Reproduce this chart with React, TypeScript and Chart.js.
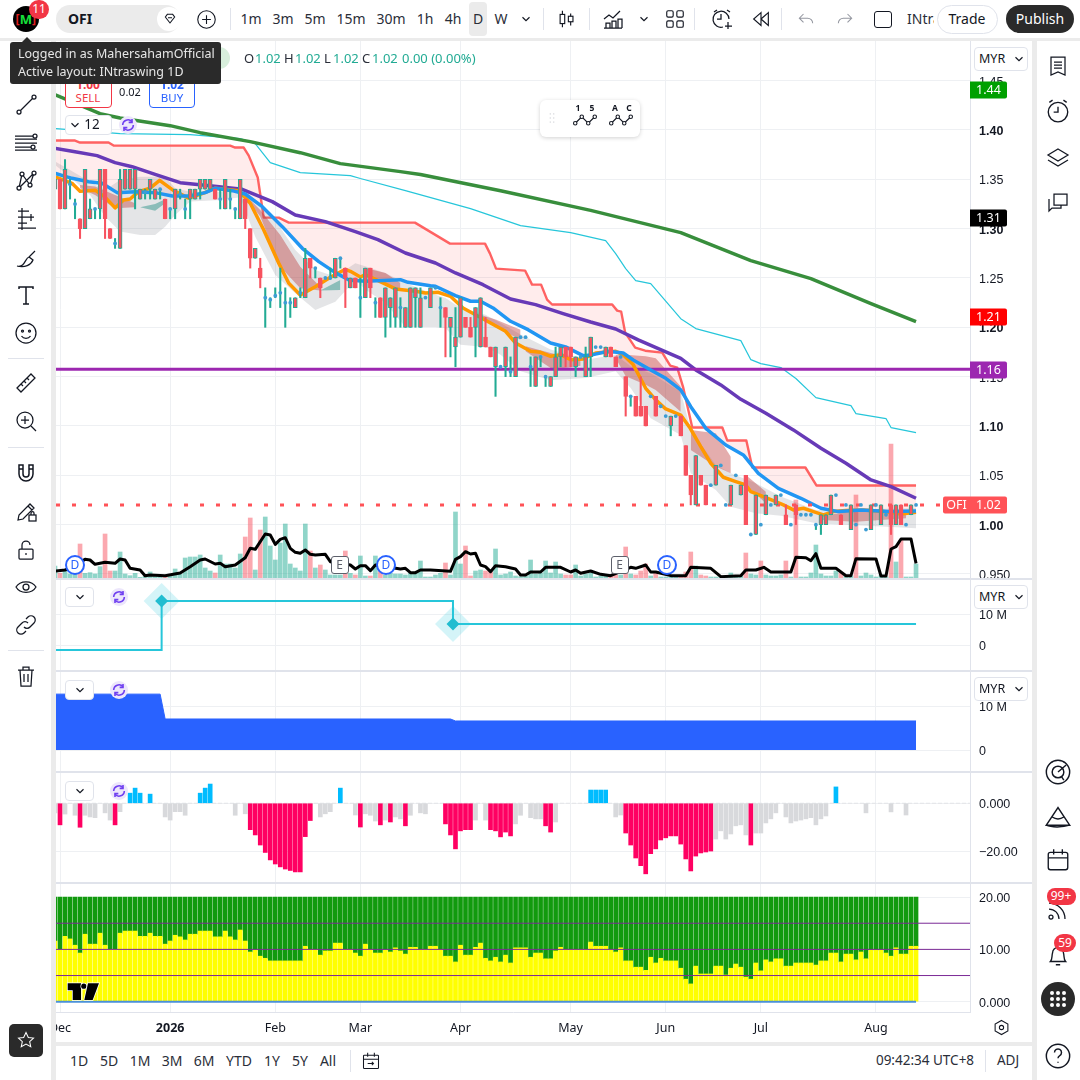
import React, { useEffect, useRef } from "react";
import { Chart, registerables } from "chart.js";

Chart.register(...registerables);

// ---------- candles (index 0..172) ----------
const opens = [
  1.34,1.35,1.32,1.345,1.325,1.31,1.30,1.31,1.32,1.32,
  1.36,1.30,1.285,1.28,1.34,1.34,1.34,1.33,1.337,1.34,
  1.33,1.34,1.33,1.32,1.32,1.335,1.32,1.33,1.33,1.34,
  1.34,1.34,1.34,1.33,1.32,1.33,1.32,1.31,1.33,1.30,
  1.27,1.26,1.23,1.228,1.232,1.235,1.225,1.225,1.22,1.235,
  1.23,1.27,1.26,1.25,1.25,1.25,1.25,1.27,1.26,1.24,
  1.25,1.23,1.23,1.26,1.225,1.23,1.21,1.22,1.21,1.22,
  1.20,1.20,1.23,1.20,1.23,1.22,1.24,1.22,1.22,1.20,
  1.18,1.19,1.21,1.20,1.20,1.18,1.19,1.18,1.16,1.16,
  1.16,1.155,1.15,1.19,1.19,1.16,1.14,1.17,1.15,1.14,
  1.15,1.17,1.18,1.18,1.16,1.17,1.15,1.17,1.18,1.18,
  1.17,1.18,1.17,1.17,1.15,1.13,1.13,1.12,1.12,1.13,
  1.13,1.12,1.11,1.10,1.11,1.11,1.08,1.05,1.02,1.05,
  1.04,1.04,1.04,1.06,1.02,1.02,1.05,1.03,1.05,0.99,
  0.99,1.00,1.01,1.02,1.02,1.03,1.01,1.00,1.02,1.01,
  1.01,1.01,1.00,1.00,1.00,1.01,1.03,1.01,1.02,0.995,
  1.00,1.02,0.995,0.995,1.02,1.00,1.01,1.02,1.00,1.02,1.00,1.01,1.02,
];
const closes = [
  1.35,1.32,1.36,1.345,1.325,1.30,1.36,1.32,1.32,1.36,
  1.31,1.29,1.285,1.35,1.36,1.36,1.36,1.34,1.337,1.35,
  1.34,1.34,1.31,1.32,1.34,1.335,1.32,1.34,1.34,1.35,
  1.35,1.35,1.33,1.33,1.35,1.33,1.32,1.35,1.31,1.27,
  1.28,1.25,1.23,1.228,1.232,1.235,1.225,1.225,1.23,1.235,
  1.27,1.26,1.26,1.24,1.25,1.25,1.27,1.27,1.25,1.25,
  1.24,1.23,1.26,1.24,1.225,1.21,1.24,1.23,1.24,1.22,
  1.22,1.24,1.24,1.23,1.23,1.24,1.24,1.22,1.21,1.21,
  1.19,1.23,1.20,1.19,1.22,1.23,1.18,1.17,1.18,1.16,
  1.18,1.155,1.19,1.19,1.19,1.16,1.17,1.17,1.15,1.15,
  1.17,1.18,1.17,1.17,1.17,1.17,1.17,1.19,1.18,1.18,
  1.18,1.17,1.16,1.17,1.13,1.13,1.11,1.11,1.10,1.13,
  1.11,1.12,1.11,1.11,1.11,1.09,1.05,1.03,1.07,1.04,
  1.02,1.04,1.06,1.06,1.02,1.04,1.05,1.04,1.00,0.99,
  1.03,1.00,1.03,1.02,1.03,1.03,1.00,1.00,1.01,1.01,
  1.01,1.01,1.00,1.01,1.01,1.03,1.03,1.00,1.02,1.02,
  1.00,1.02,0.995,1.02,1.02,1.02,1.01,1.00,1.02,1.00,1.00,1.02,1.02,
];
const highs = [
  1.35,1.35,1.37,1.35,1.33,1.31,1.36,1.33,1.32,1.36,
  1.36,1.30,1.29,1.36,1.36,1.36,1.36,1.34,1.34,1.35,
  1.34,1.34,1.33,1.32,1.34,1.34,1.33,1.34,1.34,1.35,
  1.35,1.35,1.34,1.34,1.35,1.34,1.32,1.35,1.33,1.30,
  1.28,1.27,1.24,1.23,1.24,1.26,1.24,1.23,1.23,1.24,
  1.28,1.27,1.26,1.25,1.25,1.26,1.27,1.27,1.26,1.25,
  1.25,1.25,1.26,1.26,1.23,1.23,1.24,1.23,1.24,1.23,
  1.22,1.24,1.24,1.24,1.23,1.24,1.24,1.23,1.22,1.21,
  1.22,1.23,1.21,1.21,1.22,1.23,1.21,1.18,1.18,1.16,
  1.18,1.17,1.19,1.19,1.19,1.17,1.17,1.17,1.15,1.15,
  1.18,1.18,1.18,1.18,1.17,1.17,1.18,1.19,1.18,1.18,
  1.18,1.18,1.17,1.17,1.15,1.13,1.13,1.15,1.12,1.13,
  1.13,1.12,1.11,1.11,1.11,1.11,1.08,1.05,1.07,1.05,
  1.04,1.04,1.06,1.06,1.02,1.04,1.05,1.04,1.05,0.99,
  1.03,1.00,1.03,1.02,1.03,1.03,1.02,1.00,1.02,1.01,
  1.01,1.01,1.00,1.01,1.01,1.03,1.03,1.01,1.02,1.02,
  1.00,1.02,0.995,1.02,1.02,1.02,1.01,1.02,1.02,1.02,1.00,1.02,1.02,
];
const lows = [
  1.34,1.32,1.32,1.33,1.31,1.29,1.30,1.31,1.31,1.31,
  1.29,1.29,1.28,1.28,1.34,1.34,1.32,1.33,1.33,1.33,
  1.33,1.33,1.31,1.31,1.31,1.33,1.31,1.31,1.33,1.33,
  1.34,1.34,1.33,1.32,1.32,1.32,1.31,1.31,1.30,1.26,
  1.27,1.24,1.20,1.22,1.23,1.22,1.20,1.21,1.22,1.23,
  1.23,1.25,1.25,1.23,1.25,1.25,1.25,1.26,1.22,1.24,
  1.24,1.21,1.23,1.23,1.21,1.21,1.19,1.20,1.20,1.20,
  1.20,1.20,1.20,1.20,1.23,1.22,1.24,1.20,1.17,1.17,
  1.16,1.19,1.20,1.19,1.17,1.18,1.18,1.17,1.13,1.16,
  1.15,1.15,1.15,1.19,1.19,1.14,1.14,1.16,1.14,1.14,
  1.15,1.16,1.16,1.16,1.15,1.17,1.15,1.15,1.18,1.18,
  1.17,1.17,1.16,1.17,1.11,1.12,1.11,1.11,1.10,1.13,
  1.11,1.12,1.11,1.09,1.11,1.09,1.05,1.02,1.02,1.04,
  1.02,1.04,1.04,1.06,1.02,1.02,1.05,1.03,1.00,0.99,
  0.99,1.00,1.01,1.02,1.02,1.03,1.00,1.00,1.00,1.01,
  1.01,1.01,0.995,0.99,1.00,1.01,1.03,1.00,1.02,0.995,
  1.00,1.02,0.995,0.995,1.02,1.00,1.01,0.99,1.00,1.00,1.00,1.01,1.02,
];
const volumes = [
  36,14,20,12,15,102,14,16,12,34,
  132,21,21,78,12,7,14,2,6,18,
  9,9,6,9,27,12,60,63,63,69,
  30,21,15,69,42,42,30,72,123,180,
  24,144,183,96,54,105,162,42,30,21,
  162,81,30,39,24,9,9,9,81,14,
  9,66,6,6,66,33,9,14,12,12,
  9,14,18,51,3,3,9,14,45,9,
  198,42,96,6,21,24,21,21,87,9,
  12,18,6,4,6,54,12,15,51,15,
  48,12,9,9,39,6,12,15,3,6,
  6,9,9,9,93,12,9,21,42,6,
  15,3,3,3,3,3,18,78,36,9,
  6,3,3,3,3,15,6,6,75,12,
  9,51,9,6,6,9,51,3,234,3,
  3,15,99,12,6,6,21,15,6,6,
  249,6,15,9,3,9,3,402,48,114,3,3,42,
];
const volumeRedDoji = [141, 160];

// ---------- lines: [bar index, value] ----------
const volumeAverage = [
  [0,21],[2,24],[3,30],[6,56],[7,54],[8,41],[10,47],[12,44],[13,57],[14,54],[15,29],[17,24],[18,7],[19,9],[22,7],[25,15],[27,34],[29,54],[30,57],[32,42],[33,44],[34,34],[36,39],[38,61],[39,89],[40,86],[42,132],[43,129],[44,101],[45,116],[46,121],[47,89],[48,77],[49,74],[50,84],[51,71],[52,69],[54,71],[55,49],[59,39],[60,27],[61,37],[62,37],[63,22],[64,39],[69,27],[70,29],[71,16],[72,16],[73,24],[75,24],[79,20],[80,56],[81,64],[82,79],[83,72],[84,74],[85,39],[86,34],
  [87,19],[88,37],[90,34],[92,27],[93,9],[94,9],[95,18],[97,18],[98,32],[101,32],[103,18],[104,24],[105,14],[107,21],[109,11],[111,7],[115,32],[116,29],[118,39],[119,18],[120,18],[123,7],[126,7],[127,32],[131,29],[133,4],[137,7],[138,24],[140,24],[141.6,32],[143,18],[147,18],[148,62],[150,61],[151,52],[152,73],[153,29],[156,29],[158,7],[159,7],[160,58],[164,57],[165,6],[166,6],[167,87],[168,94],[169,117],[171,117],[172,44],
];
const greenAverage = [[0,1.4358],[9,1.4165],[13,1.4122],[23,1.4044],[29,1.3973],[39,1.3882],[49,1.377],[57,1.3659],[69,1.3578],[73,1.3548],[89,1.3385],[107,1.3185],[125,1.296],[139,1.2676],[151,1.2493],[163,1.2241],[172,1.2058]];
const cyanAverage = [[0,1.4014],[13,1.3963],[27,1.3953],[37,1.3913],[40,1.3862],[43,1.3669],[49,1.3568],[59,1.3538],[61,1.3508],[70,1.3385],[83,1.3203],[93,1.3031],[103,1.296],[110,1.2879],[112,1.2747],[114,1.2595],[116,1.2473],[119,1.2443],[125,1.2088],[128,1.1987],[137,1.1865],[139,1.1672],[141,1.1632],[145,1.1592],[148,1.1481],[152,1.1287],[159,1.1206],[160,1.1125],[166,1.1075],[167,1.0984],[172,1.0933]];
const redTrail = [[0,1.3893],[4,1.3893],[5,1.3873],[10.7,1.3873],[11.7,1.3842],[35,1.3842],[36,1.3822],[37.7,1.3822],[38.7,1.374],[40.5,1.3518],[41.7,1.3112],[44.7,1.3112],[46.7,1.3061],[71.9,1.3061],[76.9,1.2909],[78.9,1.2848],[85.9,1.2848],[86.9,1.2747],[88.1,1.2595],[93.9,1.2575],[95.3,1.2433],[97.1,1.2433],[98.3,1.2281],[99.3,1.2231],[111.3,1.2231],[112.3,1.2169],[113.1,1.2159],[113.9,1.1946],[115.9,1.1794],[117.9,1.1763],[121.3,1.1743],[122.9,1.1612],[124.3,1.1592],[125.5,1.1388],[127.3,1.0984],[133.3,1.0984],[134.3,1.0852],[138.1,1.0852],[139.3,1.0579],[149.9,1.0579],[152.1,1.0397],[172,1.0397]];
const orangeAverage = [[0,1.3527],[3.4,1.346],[5,1.338],[8,1.339],[10,1.332],[12,1.321],[13.7,1.329],[15,1.330],[16.7,1.3375],[19,1.341],[20.9,1.349],[23.7,1.3385],[26.7,1.331],[29.7,1.336],[32,1.341],[36.7,1.3385],[39,1.3257],[41.7,1.2986],[44.7,1.2649],[46.7,1.2446],[49,1.2328],[52,1.2412],[55,1.2507],[58,1.2588],[59,1.2568],[61,1.251],[62,1.2534],[65.5,1.245],[68,1.2389],[72,1.2365],[74,1.2348],[76.5,1.2355],[79,1.2314],[81.5,1.2196],[84,1.2128],[87,1.2044],[90,1.196],[92,1.1841],[95,1.1757],[97,1.1747],[99,1.1706],[101,1.1723],[103,1.1672],[105.5,1.1679],[108,1.174],[112,1.1757],[113.5,1.1723],[115.5,1.1622],[118,1.1382],[120,1.1264],[122,1.1172],[125,1.1111],[126.9,1.0976],[129,1.079],[131,1.0622],[133.5,1.048],[136,1.0436],[138,1.0402],[139,1.0334],[141.5,1.0284],[143.5,1.0243],[145.5,1.02],[147.5,1.0149],[149.5,1.0166],[151.5,1.0132],[153.5,1.0098],[155.5,1.0132],[158,1.0142],[161.5,1.0149],[165.5,1.0132],[169,1.0108],[172,1.0125]];
const blueAverage = [[0,1.3561],[3.4,1.351],[6.7,1.3476],[9.4,1.346],[12.4,1.3365],[16,1.3375],[20,1.3365],[23.4,1.3331],[26.7,1.3331],[30,1.3365],[32,1.3409],[35.4,1.3385],[38,1.3351],[41.4,1.3223],[45.4,1.302],[49.4,1.2801],[52.7,1.2666],[56,1.2554],[58.7,1.248],[62,1.2466],[69,1.2483],[70.5,1.2456],[75,1.2422],[76,1.2416],[80,1.2321],[83,1.2264],[85,1.2264],[87.5,1.2196],[91,1.2061],[94.5,1.1976],[99,1.1841],[102,1.1801],[105.5,1.1713],[107.5,1.1723],[110.5,1.1757],[113.5,1.174],[115.5,1.1669],[119,1.1568],[122,1.1483],[125,1.1365],[127,1.1196],[130,1.0976],[134,1.0807],[137.5,1.0706],[140.5,1.052],[144.5,1.0368],[149,1.0267],[153,1.0166],[156.5,1.0132],[161,1.0149],[166.5,1.0132],[172,1.0139]];
const purpleAverage = [[0,1.3814],[4,1.378],[8.4,1.374],[12,1.3669],[15.4,1.3628],[20,1.3551],[25,1.3466],[31.4,1.3433],[37.4,1.3399],[43.4,1.3274],[48,1.3139],[54,1.3071],[60,1.297],[64.5,1.2889],[70,1.2753],[76,1.2652],[80,1.2551],[85.5,1.2432],[91,1.2287],[96,1.223],[101.5,1.2139],[107,1.2054],[112,1.1983],[116.5,1.1872],[125,1.1686],[128,1.1568],[133,1.1416],[137,1.127],[142,1.1128],[147.5,1.096],[153,1.0774],[158,1.0622],[163,1.0453],[167,1.0385],[172,1.0267]];

// ---------- clouds ----------
const grayBandX = [0,3,7,10,13,17,20,22,24,27,33,37,40,44,48,52,56,60,62,66,70,76,78,81,86,89,93,99,106,112,115,119,125,127,132,135,140,145,152,172];
const grayBandUpper = [1.368,1.3595,1.3476,1.3392,1.3493,1.3527,1.3527,1.3527,1.3409,1.3375,1.3375,1.3392,1.3257,1.3088,1.2784,1.2581,1.2514,1.2649,1.2618,1.2551,1.245,1.2331,1.2297,1.2196,1.2128,1.2044,1.1926,1.1774,1.1672,1.1723,1.1605,1.1534,1.1348,1.0959,1.0605,1.052,1.0419,1.0284,1.0149,1.0166];
const grayBandLower = [1.3645,1.3527,1.3341,1.3122,1.297,1.2936,1.2936,1.302,1.3139,1.3274,1.329,1.3318,1.2919,1.253,1.2345,1.2176,1.226,1.248,1.2382,1.2247,1.2003,1.2003,1.1993,1.1824,1.1801,1.1723,1.1554,1.1463,1.1486,1.1554,1.1385,1.1078,1.0909,1.052,1.0351,1.0182,1.0115,1.0091,1.0014,0.9963];
const redBandX = [5,8,12,16,17,38,41,45,49,53,54,62,66,69,70,85,88,93,93.5,94,99,102,105,106,112,114,118,120,125,126,127,132,135,136,138,142,143,153,160,170];
const redBandUpper = [1.3443,1.3426,1.3341,1.3257,null,1.3341,1.3189,1.2936,1.2615,1.2412,null,1.2601,1.2551,1.2449,null,1.2128,1.2078,1.1976,null,1.1807,1.174,1.1706,1.1655,null,1.1723,1.1723,1.1706,1.1686,1.1399,null,1.0959,1.0926,1.0689,null,1.0503,1.0334,null,1.0081,1.0149,1.0132];
const redBandLower = [1.3409,1.3341,1.3206,1.3216,null,1.3318,1.3122,1.2615,1.2395,1.2372,null,1.2534,1.2449,1.2382,null,1.2118,1.2003,1.1875,null,1.1757,1.1588,1.1588,1.1611,null,1.1689,1.1503,1.1419,1.1365,1.1145,null,1.0757,1.0588,1.052,null,1.0402,1.0216,null,1.0047,1.003,1.0064];
const tealBandX = [17,20,22,23,53,57];
const tealBandUpper = [1.3216,1.325,1.3297,null,1.2372,1.248];
const tealBandLower = [1.3216,1.3182,1.3257,null,1.2372,1.2378];

// ---------- levels and tags ----------
const purpleLevel = 1.1574;
const lastPrice = 1.02;
const priceTicks = [1.45,1.4,1.35,1.3,1.25,1.2,1.15,1.1,1.05,1,0.95];
const priceTags = [
  { value: 1.4405, text: "1.44", color: "#00a000" },
  { value: 1.3108, text: "1.31", color: "#000000" },
  { value: 1.2104, text: "1.21", color: "#ff0000" },
  { value: 1.1567, text: "1.16", color: "#9c27b0" },
  { value: 1.02, text: "1.02", color: "#ff5257" },
];

// ---------- pane 2 ----------
const stepLine = [[0,-1.6],[21.3,-1.6],[21.3,14.2],[79.5,14.2],[79.5,6.8],[172,6.8]];
const stepMarks = [[21.3,14.2],[79.5,6.8]];
// ---------- pane 3 ----------
const blueArea = [[0,12.7],[21,12.7],[22,7.05],[79,7.05],[80,6.6],[172,6.6]];
// ---------- pane 4 histogram: [bar index, value] ----------
const histBlue = [[15,4.2],[16,6.3],[17,4.2],[19,3.8],[29,4.2],[30,6.3],[31,8],[57,6.3],[107,5.5],[108,5.5],[109,5.5],[110,5.5],[156,6.8]];
const histRed = [[1,-9],[5,-10],[12,-9],[39,-11],[40,-13.2],[41,-17.4],[42,-20.5],[43,-23.6],[44,-25.3],[45,-26.5],[46,-27.4],[47,-28],[48,-28.6],[49,-28.6],[50,-13.9],[51,-7.2],[61,-9.9],[65,-9],[67,-7.8],[70,-9.4],[78,-8.6],[79,-13.2],[80,-19],[81,-11.5],[82,-11],[83,-11],[87,-11],[88,-11.5],[89,-14],[90,-12],[91,-13.6],[98,-9.4],[99,-12],[114,-12.4],[115,-17.4],[116,-22.8],[117,-26],[118,-29.4],[119,-21],[120,-19],[121,-15.3],[122,-14.4],[123,-13.6],[124,-13.6],[125,-17],[126,-23.2],[127,-28.2],[128,-22],[129,-20.7],[130,-20.3],[131,-19.9],[139,-17.4]];
const histGray = [[0,-4],[2,-4.5],[4,-5],[6,-5],[7,-5.7],[8,-6],[10,-4],[11,-7],[13,-3.5],[22,-5.7],[23,-7],[24,-3.5],[25,-3.5],[26,-5],[36,-5],[38,-4.4],[53,-5.7],[54,-4.4],[55,-3.5],[60,-4.9],[62,-4.4],[63,-5],[64,-7.4],[66,-7],[68,-5.7],[69,-6.5],[71,-5],[73,-4],[74,-4.4],[84,-7],[86,-7],[92,-8.6],[93,-5],[95,-6],[96,-6.5],[97,-6.5],[100,-7.8],[112,-5.7],[113,-4.9],[132,-14.9],[133,-11.5],[134,-14.9],[135,-12.8],[136,-9.4],[137,-9],[138,-13.2],[140,-12.4],[141,-12.4],[142,-8.2],[143,-6.5],[144,-4],[146,-5.7],[147,-8.2],[148,-7.4],[149,-7],[150,-6.5],[151,-6],[152,-9],[153,-6.5],[154,-5.3],[162,-4],[167,-3.6],[170,-4.9]];
// ---------- pane 5: yellow height per bar, green fills to the cap ----------
const oscCap = 20;
const oscLevels = [15, 10, 5];
const yellowValues = [
  11.6,10,12.5,12,10.8,9.3,12.9,11,11,13.1,
  10.8,10,10,13.1,13.5,13.5,13.5,12.5,12.5,13.1,
  12.5,12.5,11,11.6,12.7,12.4,11.8,12.9,12.9,13.5,
  13.5,13.5,12.4,12.4,13.5,12.4,11.8,13.7,11.6,9.5,
  9.9,8.7,8.3,7.8,7.8,7.8,7.8,7.8,7.8,7.8,
  10.6,10,10,8.9,9.7,9.7,11.2,11.2,10,10,
  9.3,8.7,11,10,9.3,9.3,9.9,9.5,10.3,9.7,
  9.1,10.4,10.4,10,10,10.6,10.6,10,8.7,8.7,
  7.6,10.8,8.9,8.9,10.4,11.2,8.3,7.8,8.5,7.6,
  8.9,7.4,10.3,10.3,10.3,8.5,9.3,9.3,8.2,8.2,
  9.7,10.4,10,10,10,10,10,11.4,10.6,10.6,
  10.6,10,9.5,10.3,7.8,7.8,6.6,6.6,6,8.5,
  7.4,8.3,7.8,7.8,7.8,6.4,4.3,3.4,6.8,5.3,
  5.3,5.3,6.8,6.8,5.1,6.4,7.2,6.6,4.7,4.3,
  7.4,5.9,8,7.6,8.2,8.2,6.8,6.8,7.4,7.4,
  7.4,7.4,7,7.8,7.8,9.3,9.3,7.6,9.1,9.1,
  8,9.5,8.2,9.9,9.9,9.9,9.3,8.7,10.3,9.1,9.1,10.6,10.6,
];

// ---------- time axis ----------
const monthTicks = [1, 23, 44, 61, 81, 103, 122, 141, 164];
const monthLabels = ["Dec", "2026", "Feb", "Mar", "Apr", "May", "Jun", "Jul", "Aug"];

const X_MIN = 0.2;
const X_MAX = 182.78;
const TEAL = "#22ab94";
const RED = "#f7525f";
const GRID = "#eef0f3";
const UI = '"Noto Sans", sans-serif';
const AXIS = '"Liberation Sans", Arial, sans-serif';

const xy = (pairs: number[][]) => pairs.map(([x, y]) => ({ x, y }));
const zip = (xs: number[], ys: (number | null)[]) => xs.map((x, i) => ({ x, y: ys[i] }));
const noPadding = (s: any) => { s.paddingLeft = 0; s.paddingRight = 0; s.paddingTop = 0; s.paddingBottom = 0; };

function xScale(showLabels: boolean) {
  return {
    type: "linear",
    min: X_MIN,
    max: X_MAX,
    offset: false,
    afterBuildTicks: (s: any) => { s.ticks = monthTicks.map((value) => ({ value })); },
    afterFit: (s: any) => { s.height = showLabels ? 30 : 0; noPadding(s); },
    grid: { color: GRID, drawTicks: false, offset: false },
    border: { display: showLabels, color: "#e0e3eb" },
    ticks: {
      display: showLabels,
      autoSkip: false,
      maxRotation: 0,
      padding: 9,
      color: "#131722",
      font: (ctx: any) => ({ size: 12.5, family: UI, weight: ctx.tick && ctx.tick.value === 23 ? "bold" : "normal" }),
      callback: (v: number) => monthLabels[monthTicks.indexOf(v)] || "",
    },
  };
}

function yScale(min: number, max: number, ticks: number[], label: (v: number) => string, boldFn?: (v: number) => boolean) {
  return {
    type: "linear",
    position: "right",
    min,
    max,
    afterBuildTicks: (s: any) => { s.ticks = ticks.map((value) => ({ value })); },
    afterFit: (s: any) => { s.width = 62; noPadding(s); },
    grid: { color: GRID, drawTicks: false },
    border: { display: true, color: "#e0e3eb" },
    ticks: {
      autoSkip: false,
      padding: 9,
      labelOffset: 1.5,
      color: "#131722",
      font: (ctx: any) => ({ size: 12.5, family: AXIS, weight: boldFn && ctx.tick && boldFn(ctx.tick.value) ? "bold" : "normal" }),
      callback: (v: number) => label(v),
    },
  };
}

function baseOptions(scales: any) {
  return {
    responsive: false,
    animation: false,
    events: [],
    layout: { padding: 0, autoPadding: false },
    plugins: { legend: { display: false }, tooltip: { enabled: false } },
    scales,
  };
}

const lineSet = (data: any[], color: string, width: number, order: number, extra: any = {}) => ({
  type: "line", data, borderColor: color, borderWidth: width, pointRadius: 0, tension: 0, order, yAxisID: "y", borderJoinStyle: "round", ...extra,
});

const barSet = (data: any[], color: any, thickness: number, order: number, extra: any = {}) => ({
  type: "bar", data, backgroundColor: color, barThickness: thickness, grouped: false, order, yAxisID: "y", ...extra,
});

const priceTagPlugin = {
  id: "priceTags",
  afterDraw(chart: any) {
    const { ctx, scales } = chart;
    const ax = scales.y;
    const left = ax.left;
    ctx.save();
    ctx.font = `12.5px ${UI}`;
    ctx.textBaseline = "middle";
    ctx.textAlign = "center";
    priceTags.forEach((t) => {
      const y = Math.round(ax.getPixelForValue(t.value));
      ctx.fillStyle = t.color;
      ctx.beginPath();
      ctx.roundRect(left, y - 8.5, 37, 17, [0, 2, 2, 0]);
      ctx.fill();
      ctx.fillStyle = "#ffffff";
      ctx.fillText(t.text, left + 18.5, y + 0.5);
      if (t.value === lastPrice) {
        ctx.fillStyle = t.color;
        ctx.beginPath();
        ctx.roundRect(left - 27, y - 8.5, 27, 17, [2, 0, 0, 2]);
        ctx.fill();
        ctx.fillStyle = "#ffffff";
        ctx.fillText("OFI", left - 13.5, y + 0.5);
      }
    });
    ctx.restore();
  },
};

function mainConfig() {
  const idx = opens.map((_, i) => i);
  const up = idx.filter((i) => closes[i] > opens[i]);
  const down = idx.filter((i) => closes[i] < opens[i]);
  const doji = idx.filter((i) => closes[i] === opens[i]);
  const bodyIdx = [...up, ...down];
  const datasets: any[] = [];
  datasets.push(barSet(
    volumes.map((v, i) => ({ x: i, y: v })),
    volumes.map((_, i) => (closes[i] < opens[i] || volumeRedDoji.includes(i) ? "rgba(247,82,95,0.5)" : "rgba(34,171,148,0.5)")),
    4, 100, { yAxisID: "vol" }));
  datasets.push(lineSet(xy(volumeAverage), "#000000", 3, 20, { yAxisID: "vol" }));
  const blueIndex = datasets.length;
  datasets.push(lineSet(xy(blueAverage), "#2196f3", 3.5, 49));
  datasets.push(lineSet(xy(orangeAverage), "#ff9800", 3.5, 50));
  datasets.push(lineSet(xy(redTrail), "rgba(255,82,82,0.9)", 2.4, 90, {
    fill: { target: blueIndex, above: "rgba(255,82,82,0.11)", below: "rgba(0,0,0,0)" },
  }));
  datasets.push(lineSet(zip(grayBandX, grayBandUpper), "rgba(0,0,0,0)", 0, 80, {
    fill: { target: "+1", above: "rgba(120,123,134,0.2)", below: "rgba(120,123,134,0.2)" },
  }));
  datasets.push(lineSet(zip(grayBandX, grayBandLower), "rgba(0,0,0,0)", 0, 81));
  datasets.push(lineSet(zip(redBandX, redBandUpper), "rgba(0,0,0,0)", 0, 75, {
    fill: { target: "+1", above: "rgba(190,60,60,0.42)", below: "rgba(190,60,60,0.42)" },
  }));
  datasets.push(lineSet(zip(redBandX, redBandLower), "rgba(0,0,0,0)", 0, 76));
  datasets.push(lineSet(zip(tealBandX, tealBandUpper), "rgba(0,0,0,0)", 0, 73, {
    fill: { target: "+1", above: "rgba(50,150,140,0.5)", below: "rgba(50,150,140,0.5)" },
  }));
  datasets.push(lineSet(zip(tealBandX, tealBandLower), "rgba(0,0,0,0)", 0, 74));
  datasets.push(lineSet(xy(cyanAverage), "#26c6da", 1.2, 70));
  datasets.push(lineSet(xy(greenAverage), "#388e3c", 3.5, 69));
  datasets.push(lineSet(xy(purpleAverage), "#673ab7", 3.5, 68));
  datasets.push(lineSet([{ x: X_MIN, y: purpleLevel }, { x: X_MAX, y: purpleLevel }], "#9c27b0", 3, 60));
  datasets.push(lineSet([{ x: X_MIN, y: lastPrice }, { x: 177, y: lastPrice }], "#ff5257", 3, 45, { borderDash: [4, 12], borderCapStyle: "butt" }));
  datasets.push(barSet(idx.map((i) => ({ x: i, y: [lows[i], highs[i]] })), idx.map((i) => (closes[i] < opens[i] ? RED : TEAL)), 1.4, 40));
  datasets.push(barSet(
    bodyIdx.map((i) => ({ x: i, y: [opens[i], closes[i]] })),
    RED, 4, 39,
    { borderColor: bodyIdx.map((i) => (closes[i] > opens[i] ? TEAL : RED)), borderWidth: 1, borderSkipped: false },
  ));
  datasets.push(lineSet(doji.map((i) => ({ x: i, y: closes[i] })), "rgba(0,0,0,0)", 0, 38, {
    showLine: false, pointRadius: 1.9, pointBorderWidth: 0, pointBackgroundColor: "#3d9dd4", pointStyle: "circle",
  }));
  return {
    type: "bar",
    data: { datasets },
    options: baseOptions({
      x: xScale(false),
      y: yScale(0.9459, 1.4902, priceTicks, (v) => (v < 1 ? v.toFixed(3) : v.toFixed(2)), (v) => Math.abs(v * 10 - Math.round(v * 10)) < 1e-6),
      vol: { display: false, min: 0, max: 1611 },
    }),
    plugins: [priceTagPlugin],
  };
}

function pane2Config() {
  return {
    type: "line",
    data: {
      datasets: [
        lineSet(xy(stepMarks), "rgba(0,0,0,0)", 0, 1, { showLine: false, pointStyle: "rectRot", pointRadius: 6.5, pointBackgroundColor: "#22bdd0", pointBorderWidth: 0 }),
        lineSet(xy(stepMarks), "rgba(0,0,0,0)", 0, 3, { showLine: false, pointStyle: "rectRot", pointRadius: 18, pointBackgroundColor: "rgba(38,198,218,0.2)", pointBorderWidth: 0 }),
        lineSet(xy(stepLine), "#26c6da", 2, 2, { borderJoinStyle: "miter" }),
      ],
    },
    options: baseOptions({ x: xScale(false), y: yScale(-8.06, 20.97, [10, 0], (v) => (v === 0 ? "0" : `${v} M`)) }),
  };
}

function pane3Config() {
  return {
    type: "line",
    data: {
      datasets: [lineSet(xy(blueArea), "#2962ff", 1, 1, { fill: "origin", backgroundColor: "#2962ff" })],
    },
    options: baseOptions({ x: xScale(false), y: yScale(-4.77, 17.73, [10, 0], (v) => (v === 0 ? "0" : `${v} M`)) }),
  };
}

function pane4Config() {
  return {
    type: "bar",
    data: {
      datasets: [
        barSet(xy(histBlue), "#00bcff", 4, 1),
        barSet(xy(histRed), "#ff0062", 4, 1),
        barSet(xy(histGray), "#d8d9dc", 4, 1),
        lineSet([{ x: X_MIN, y: 0 }, { x: X_MAX, y: 0 }], "#e3e4e8", 1, 5, { borderDash: [4, 2] }),
      ],
    },
    options: baseOptions({ x: xScale(false), y: yScale(-32.8, 12.6, [0, -20], (v) => (v === 0 ? "0.000" : `\u2212${Math.abs(v).toFixed(2)}`)) }),
  };
}

function pane5Config() {
  return {
    type: "bar",
    data: {
      datasets: [
        lineSet([{ x: 0, y: 0 }, { x: 172, y: 0 }], "#4a90d9", 2, 1),
        ...oscLevels.map((lv) => lineSet([{ x: X_MIN, y: lv }, { x: X_MAX, y: lv }], "#7b2a96", 1, 2)),
        barSet(yellowValues.map((v, i) => ({ x: i, y: [0, v] })), "#ffff00", 4, 3),
        barSet(yellowValues.map((v, i) => ({ x: i, y: [v, oscCap] })), "#119a0e", 4, 3),
      ],
    },
    options: baseOptions({ x: xScale(true), y: yScale(-1.97, 22.5, [20, 10, 0], (v) => (v === 0 ? "0.000" : v.toFixed(2))) }),
  };
}

// ---------- page furniture ----------
const T = ({ x, y, s = 14, c = "#131722", w = 400, a = "c", f = UI, children }: any) => (
  <div style={{ position: "absolute", left: x, top: y, transform: a === "c" ? "translate(-50%,-50%)" : "translateY(-50%)", fontSize: s, color: c, fontWeight: w, fontFamily: f, whiteSpace: "nowrap", lineHeight: 1 }}>{children}</div>
);
const Box = ({ x, y, w, h, bg = "#fff", r = 0, b, z, children }: any) => (
  <div style={{ position: "absolute", left: x, top: y, width: w, height: h, background: bg, borderRadius: r, border: b, boxSizing: "border-box", zIndex: z }}>{children}</div>
);
const Icon = ({ x, y, size = 24, sw = 1.25, c = "#131722", children }: any) => (
  <svg width={size} height={size} viewBox="0 0 24 24" fill="none" stroke={c} strokeWidth={sw} style={{ position: "absolute", left: x - size / 2, top: y - size / 2 }}>{children}</svg>
);
const Refresh = ({ x, y }: any) => (
  <>
    <Box x={x - 9} y={y - 9} w={18} h={18} bg="#ece6fb" r={9} />
    <Icon x={x} y={y} size={16} sw={2.4} c="#6f3ff0"><path d="M4 12a8 8 0 0 1 14-5M20 12a8 8 0 0 1-14 5" /><path d="M18 3v5h-5M6 21v-5h5" /></Icon>
  </>
);
const Chevron = ({ x, y, c = "#131722" }: any) => (
  <Icon x={x} y={y} size={14} sw={2} c={c}><path d="M6 9l6 6 6-6" /></Icon>
);
const Myr = ({ y }: any) => (
  <Box x={974} y={y} w={54} h={24} r={4} bg="#fff" b="1px solid #e0e3eb">
    <T x={4} y={11} s={12.5} a="l">MYR</T>
    <Chevron x={44} y={11} />
  </Box>
);
const PaneBtn = ({ y }: any) => (
  <Box x={65} y={y} w={29} h={20} r={4} b="1px solid #e0e3eb"><Chevron x={14} y={9} /></Box>
);
const DMark = ({ x, y }: any) => (
  <div style={{ position: "absolute", left: x - 10, top: y - 10, width: 20, height: 20, borderRadius: 10, border: "2px solid #2962ff", background: "#fff", boxSizing: "border-box" }}><T x={8} y={8} s={12} c="#2962ff">D</T></div>
);
const EMark = ({ x, y }: any) => (
  <div style={{ position: "absolute", left: x - 9, top: y - 9, width: 18, height: 18, borderRadius: 3, border: "1.5px solid #5d606b", background: "#fff", boxSizing: "border-box" }}><T x={7.5} y={7.5} s={12} c="#5d606b">E</T></div>
);

const topLabels: [string, number][] = [["1m", 251], ["3m", 283], ["5m", 315], ["15m", 351], ["30m", 391], ["1h", 425], ["4h", 453], ["D", 478], ["W", 501]];
const rangeLabels: [string, number][] = [["1D", 79], ["5D", 109], ["1M", 140], ["3M", 172], ["6M", 204], ["YTD", 239], ["1Y", 272], ["5Y", 300], ["All", 328]];

function Chrome() {
  return (
    <>
      {/* top bar */}
      <Box x={0} y={0} w={1080} h={38} />
      <Box x={56} y={5} w={124} h={28} bg="#ebebeb" r={14} />
      <T x={68} y={19} s={14} w={700} a="l">OFI</T>
      <Box x={157} y={7} w={24} h={24} r={12} />
      <Icon x={170} y={19} size={16} sw={1.6}><path d="M5 9l3-4h8l3 4-7 9zM9 10h6" /></Icon>
      <Icon x={206} y={19} size={21}><circle cx="12" cy="12" r="10" /><path d="M12 7v10M7 12h10" /></Icon>
      <Box x={230} y={8} w={1} h={22} bg="#e0e3eb" />
      <Box x={469} y={2} w={18} h={34} bg="#ebebeb" r={4} />
      {topLabels.map(([l, x]) => <T key={l} x={x} y={19} s={14} c="#2a2e39">{l}</T>)}
      <Chevron x={526} y={19} />
      <Box x={543} y={8} w={1} h={22} bg="#e0e3eb" />
      <Icon x={567} y={19} size={22}><path d="M7 3v18M16 6v13" /><rect x="4.5" y="7" width="5" height="10" fill="#fff" /><rect x="13.5" y="9" width="5" height="6" fill="#fff" /></Icon>
      <Box x={589} y={8} w={1} h={22} bg="#e0e3eb" />
      <Icon x={613} y={19} size={24}><path d="M3 12l5-4 4 3 7-7M3 21h18M5 21v-5h4v5M11 21v-7h4v7M17 21v-9h4v9" /></Icon>
      <Chevron x={644} y={19} />
      <Icon x={675} y={19} size={22}><rect x="3" y="3" width="7" height="7" rx="1.5" /><rect x="14" y="3" width="7" height="7" rx="1.5" /><rect x="3" y="14" width="7" height="7" rx="1.5" /><rect x="14" y="14" width="7" height="7" rx="1.5" /></Icon>
      <Box x={694} y={8} w={1} h={22} bg="#e0e3eb" />
      <Icon x={722} y={19} size={24}><path d="M19 12a8 8 0 1 0-6 8" /><path d="M11 7v5h-4M18 15v7M15 19h7M4 5l3-2M20 5l-3-2" /></Icon>
      <Icon x={761} y={19} size={22}><path d="M12 5l-8 7 8 7zM20 5l-8 7 8 7z" /></Icon>
      <Box x={781} y={8} w={1} h={22} bg="#e0e3eb" />
      <Icon x={806} y={19} size={20} c="#9598a1"><path d="M9 6l-5 5 5 5M4 11h10a6 6 0 0 1 6 6" /></Icon>
      <Icon x={845} y={19} size={20} c="#9598a1"><path d="M15 6l5 5-5 5M20 11H10a6 6 0 0 0-6 6" /></Icon>
      <Box x={874} y={11} w={18} h={17} r={3} b="1.3px solid #131722" />
      <div style={{ position: "absolute", left: 907, top: 10, width: 27, height: 20, overflow: "hidden" }}><T x={0} y={9} s={14} c="#2a2e39" a="l">INtraswing</T></div>
      <Box x={937} y={5} w={61} h={29} r={15} b="1px solid #e0e3eb" />
      <T x={967} y={19} s={14}>Trade</T>
      <Box x={1006} y={5} w={68} h={28} bg="#2a2a2a" r={14} />
      <T x={1040} y={19} s={14} c="#fff">Publish</T>
      {/* avatar */}
      <Box x={13} y={6} w={26} h={26} bg="#000" r={13} />
      <T x={26} y={19} s={13} c="#16e03a" w={700}>M</T>
      <T x={17.5} y={19} s={12} c="#e02020" w={700}>[</T>
      <T x={34} y={19} s={12} c="#e02020" w={700}>]</T>
      <Box x={29} y={0} w={20} h={19} bg="#f23645" r={10} />
      <T x={39} y={9} s={12} c="#fff">11</T>
      {/* left bar */}
      <Box x={0} y={41} w={51} h={1039} />
      <Icon x={26} y={104}><circle cx="5" cy="20" r="2" /><circle cx="20" cy="5" r="2" /><path d="M6.5 18.5l12-12" /></Icon>
      <Icon x={26} y={143}><path d="M1 5h18M1 12h22M1 19h22M1 8h22M1 16h16" /><circle cx="21" cy="5" r="2" /><circle cx="19" cy="16" r="2" /></Icon>
      <Icon x={26} y={181}><path d="M5 19L8 5l8 11 4-12M5 19l15-15" /><circle cx="5" cy="19" r="2" fill="#fff" /><circle cx="8" cy="5" r="2" fill="#fff" /><circle cx="16" cy="16" r="2" fill="#fff" /><circle cx="20" cy="4" r="2" fill="#fff" /></Icon>
      <Icon x={26} y={219}><path d="M4 4h11M4 10h16M4 16h9M4 21h18M8 1v22M17 7v7" /></Icon>
      <Icon x={26} y={258}><path d="M3 20c8 2 8-8 12-9l4 3c-2 5-8 8-16 6zM15 11l6-6" /></Icon>
      <Icon x={26} y={295} sw={1.5}><path d="M5 6V4h14v2M12 4v17M9 21h6" /></Icon>
      <Icon x={26} y={333}><circle cx="12" cy="12" r="10" /><circle cx="8.5" cy="10" r="1" /><circle cx="15.5" cy="10" r="1" /><path d="M7.500 15c2 3 7 3 9 0" /></Icon>
      <Box x={8} y={358} w={36} h={1} bg="#e0e3eb" />
      <Icon x={26} y={383}><path d="M3 17L17 3l4 4L7 21zM7 13l2 2M10 10l2 2M13 7l2 2" /></Icon>
      <Icon x={26} y={421}><circle cx="11" cy="11" r="8" /><path d="M17 17l5 5M11 7v8M7 11h8" /></Icon>
      <Box x={8} y={447} w={36} h={1} bg="#e0e3eb" />
      <Icon x={26} y={473} sw={1.5}><path d="M5 4v9a7 7 0 0 0 14 0V4h-4v9a3 3 0 0 1-6 0V4zM5 8h4M15 8h4" /></Icon>
      <Icon x={26} y={511}><path d="M4 21l1-5L16 5l4 4L9 20zM14 7l4 4" /><rect x="15" y="16" width="7" height="6" /><path d="M17 16v-2a1.5 1.5 0 0 1 3 0v2" /></Icon>
      <Icon x={26} y={550}><rect x="5" y="11" width="14" height="10" rx="1" /><path d="M8 11V7a4 4 0 0 1 8 0M12 15v2" /></Icon>
      <Icon x={26} y={587}><path d="M2 12c4-7 16-7 20 0-4 7-16 7-20 0z" /><circle cx="12" cy="12" r="3" /></Icon>
      <Icon x={26} y={625}><path d="M10 14a4 4 0 0 0 6 0l4-4a4 4 0 0 0-6-6l-2 2M14 10a4 4 0 0 0-6 0l-4 4a4 4 0 0 0 6 6l2-2" /></Icon>
      <Box x={8} y={650} w={36} h={1} bg="#e0e3eb" />
      <Icon x={26} y={676}><path d="M4 6h16M9 6V3h6v3M6 6l1 16h10l1-16M10 10v8M14 10v8" /></Icon>
      <Box x={9} y={1024} w={34} h={33} bg="#2a2a2a" r={5} />
      <Icon x={26} y={1040} size={20} c="#fff"><path d="M12 3l2.800 6 6.200.7-4.600 4.200 1.300 6.100-5.700-3.100L6.300 20l1.300-6.100L3 9.700 9.200 9z" /></Icon>
      {/* right bar */}
      <Box x={1037} y={41} w={43} h={1039} />
      <Icon x={1058} y={66}><path d="M5 3h14v18l-7-3-7 3zM8 8h8M8 11h8M8 14h8" /></Icon>
      <Icon x={1058} y={111} size={26}><circle cx="12" cy="13" r="9" /><path d="M12 8v5H8M4 4l3-2M20 4l-3-2" /></Icon>
      <Icon x={1058} y={157}><path d="M12 4l10 6-10 6L2 10zM2 15l10 6 10-6" /></Icon>
      <Icon x={1058} y={203}><path d="M8 3h13v11H8zM3 8v12l3-3h9v-3" /></Icon>
      <Icon x={1058} y={772} size={28}><circle cx="12" cy="12" r="10" /><circle cx="12" cy="12" r="5" /><path d="M12 12l7-6M17 19l-2-3" /></Icon>
      <Icon x={1058} y={817} size={28}><path d="M2 19L12 4l10 15zM2 19c4 2 14 2 20 0M7 12c3 2 7 2 10 0" /></Icon>
      <Icon x={1058} y={860} size={26}><rect x="3" y="5" width="18" height="16" rx="2" /><path d="M3 10h18M8 2v5M16 2v5" /></Icon>
      <Icon x={1058} y={910}><circle cx="5" cy="19" r="2" /><path d="M3 11a10 10 0 0 1 10 10M3 5a16 16 0 0 1 16 16" /></Icon>
      <Box x={1047} y={888} w={29} h={17} bg="#f23645" r={8} />
      <T x={1061} y={896} s={12} c="#fff">99+</T>
      <Icon x={1058} y={955} size={26}><path d="M5 18c2-2 1-5 2-8a5 5 0 0 1 10 0c1 3 0 6 2 8zM10 21h4" /></Icon>
      <Box x={1054} y={934} w={22} h={18} bg="#f23645" r={9} />
      <T x={1065} y={943} s={12} c="#fff">59</T>
      <Box x={1041} y={982} w={34} h={34} bg="#2a2a2a" r={17} />
      {[0, 1, 2].map((r) => [0, 1, 2].map((c) => (
        <Box key={`${r}${c}`} x={1050 + c * 6} y={991 + r * 6} w={4} h={4} r={2} />
      )))}
      <Icon x={1058} y={1056} size={28}><circle cx="12" cy="12" r="10" /><path d="M9 9a3 3 0 1 1 4.500 2.600c-1 .6-1.500 1.200-1.500 2.400M12 17v.8" /></Icon>
      {/* bottom bar */}
      <Box x={56} y={1046} w={976} h={34} />
      {rangeLabels.map(([l, x]) => <T key={l} x={x} y={1061} s={14} c="#2a2e39">{l}</T>)}
      <Box x={350} y={1050} w={1} h={22} bg="#e0e3eb" />
      <Icon x={371} y={1061} size={20}><rect x="3" y="5" width="18" height="16" rx="1" /><path d="M3 10h18M8 2v5M16 2v5M8 15h7M13 13l2 2-2 2" /></Icon>
      <T x={925} y={1061} s={13.5} c="#2a2e39">09:42:34 UTC+8</T>
      <Box x={985} y={1050} w={1} h={22} bg="#e0e3eb" />
      <T x={1008} y={1061} s={13.5} c="#2a2e39">ADJ</T>
      <Icon x={1001} y={1027} size={17} sw={1.5}><path d="M12 2l9 5v10l-9 5-9-5V7z" /><circle cx="12" cy="12" r="3" /></Icon>
      {/* legend strip */}
      <Box x={208} y={47} w={22} h={22} bg="#d8efdc" r={11} />
      <T x={219} y={58} s={14} c="#1b8a3a">☾</T>
      <T x={244} y={58} s={13} c="#2a2e39" a="l">O</T>
      <T x={255} y={58} s={13} c="#22ab94" a="l">1.02</T>
      <T x={284} y={58} s={13} c="#2a2e39" a="l">H</T>
      <T x={295} y={58} s={13} c="#22ab94" a="l">1.02</T>
      <T x={324} y={58} s={13} c="#2a2e39" a="l">L</T>
      <T x={333} y={58} s={13} c="#22ab94" a="l">1.02</T>
      <T x={362} y={58} s={13} c="#2a2e39" a="l">C</T>
      <T x={372} y={58} s={13} c="#22ab94" a="l">1.02</T>
      <T x={402} y={58} s={13} c="#22ab94" a="l">0.00 (0.00%)</T>
      {/* trade buttons */}
      <Box x={65} y={72} w={47} h={36} r={4} b="1px solid #f23645" />
      <T x={88} y={85} s={12} c="#f23645" w={700}>1.00</T>
      <T x={88} y={98} s={11.5} c="#f23645">SELL</T>
      <T x={130} y={91} s={11} c="#131722">0.02</T>
      <Box x={149} y={72} w={46} h={36} r={4} b="1px solid #2962ff" />
      <T x={172} y={85} s={12} c="#2962ff" w={700}>1.02</T>
      <T x={172} y={98} s={11.5} c="#2962ff">BUY</T>
      <Box x={65} y={115} w={47} h={20} r={4} b="1px solid #e0e3eb" />
      <Chevron x={75} y={125} />
      <T x={92} y={125} s={13.5}>12</T>
      <Refresh x={128} y={125} />
      {/* tooltip */}
      <div style={{ position: "absolute", left: 21, top: 37, width: 0, height: 0, borderLeft: "6px solid transparent", borderRight: "6px solid transparent", borderBottom: "6px solid #2a2a2a" }} />
      <Box x={10} y={42} w={211} h={42} bg="#2a2a2a" r={3} />
      <T x={18} y={54} s={12.5} c="#e6e6e6" a="l">Logged in as MahersahamOfficial</T>
      <T x={18} y={72} s={12.5} c="#e6e6e6" a="l">Active layout: INtraswing 1D</T>
      {/* floating wave tools */}
      <div style={{ position: "absolute", left: 540, top: 100, width: 100, height: 37, background: "#fff", borderRadius: 6, boxShadow: "0 1px 4px rgba(0,0,0,.18)" }} />
      <Icon x={552} y={118} size={14} c="#c4c6cc" sw={1.6}><path d="M9 4v2M15 4v2M9 11v2M15 11v2M9 18v2M15 18v2" /></Icon>
      <T x={578} y={108} s={8.5} w={700}>1</T>
      <T x={592} y={108} s={8.5} w={700}>5</T>
      <T x={615} y={108} s={8.5} w={700}>A</T>
      <T x={629} y={108} s={8.5} w={700}>C</T>
      <Icon x={585} y={120} size={26} sw={1}><path d="M3 15l6-6 6 6 6-6" /><circle cx="3" cy="15" r="1.6" fill="#fff" /><circle cx="9" cy="9" r="1.6" fill="#fff" /><circle cx="15" cy="15" r="1.6" fill="#fff" /><circle cx="21" cy="9" r="1.6" fill="#fff" /></Icon>
      <Icon x={621} y={120} size={26} sw={1}><path d="M3 15l6-6 6 6 6-6" /><circle cx="3" cy="15" r="1.6" fill="#fff" /><circle cx="9" cy="9" r="1.6" fill="#fff" /><circle cx="15" cy="15" r="1.6" fill="#fff" /><circle cx="21" cy="9" r="1.6" fill="#fff" /></Icon>
      {/* markers */}
      <DMark x={75} y={565} />
      <DMark x={386} y={565} />
      <DMark x={667} y={565} />
      <EMark x={340} y={565} />
      <EMark x={620} y={565} />
      {/* pane controls */}
      <Myr y={47} />
      <Myr y={585} />
      <Myr y={677} />
      <PaneBtn y={587} /><Refresh x={119} y={597} />
      <PaneBtn y={680} /><Refresh x={119} y={690} />
      <PaneBtn y={781} /><Refresh x={119} y={791} />
      {/* watermark */}
      <svg width="38" height="20" viewBox="0 0 38 20" style={{ position: "absolute", left: 66, top: 982 }}>
        <g fill="#000" stroke="#fff" strokeWidth="1.5" paintOrder="stroke">
          <path d="M1.700 1.300H15V18H6.700V8.300H1.700z" />
          <circle cx="17.800" cy="4.200" r="2.600" />
          <path d="M22 1.300H33L26.700 18H18.300z" />
        </g>
      </svg>
    </>
  );
}

const panes = [
  { top: 41, height: 537, make: mainConfig },
  { top: 580, height: 90, make: pane2Config },
  { top: 672, height: 99, make: pane3Config },
  { top: 773, height: 109, make: pane4Config },
  { top: 884, height: 158, make: pane5Config },
];

export default function App() {
  const refs = useRef<(HTMLCanvasElement | null)[]>([]);
  useEffect(() => {
    const charts = panes.map((p, i) => new Chart(refs.current[i] as any, p.make() as any));
    return () => charts.forEach((c) => c.destroy());
  }, []);
  return (
    <div style={{ position: "fixed", left: 0, top: 0, width: 1080, height: 1080, background: "#ebebeb", overflow: "hidden" }}>
      <Box x={56} y={41} w={976} h={1001} bg="#e0e3eb" />
      {panes.map((p, i) => (
        <canvas
          key={i}
          ref={(el) => { refs.current[i] = el; }}
          width={976}
          height={p.height}
          style={{ position: "absolute", left: 56, top: p.top, width: 976, height: p.height, display: "block", background: "#fff" }}
        />
      ))}
      <Chrome />
    </div>
  );
}
